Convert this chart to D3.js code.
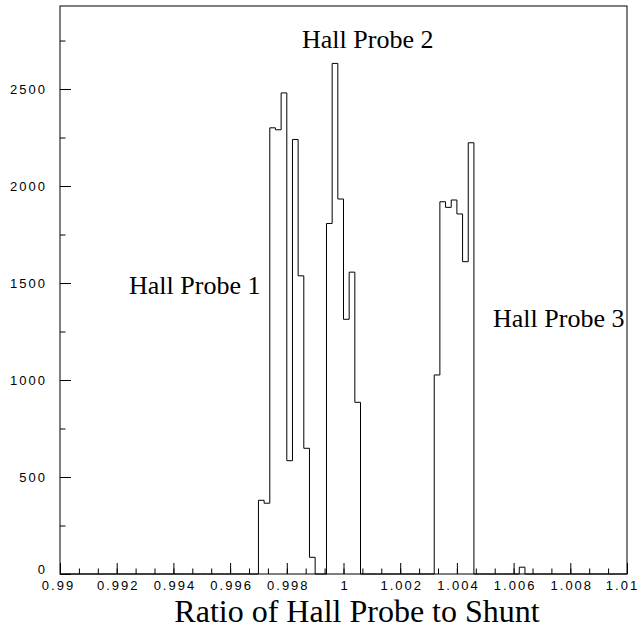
<!DOCTYPE html>
<html>
<head>
<meta charset="utf-8">
<script src="https://cdn.jsdelivr.net/npm/d3@7"></script>
<style>
  body { margin: 0; background: #fff; }
  svg { display: block; }
  .tick text { font-family: "Liberation Sans", Arial, sans-serif; font-size: 13px; letter-spacing: 2px; fill: #000; }
  .lbl { font-family: "Liberation Serif", "Times New Roman", serif; fill: #000; }
</style>
</head>
<body>
<div id="chart"></div>
<script>
// histogram bins (lower edge, width 0.0002) and counts
const binWidth = 0.0002
const binLow = [0.9970, 0.9972, 0.9974, 0.9976, 0.9978, 0.9980, 0.9982, 0.9984, 0.9986, 0.9988,
                0.9994, 0.9996, 0.9998, 1.0000, 1.0002, 1.0004,
                1.0032, 1.0034, 1.0036, 1.0038, 1.0040, 1.0042, 1.0044,
                1.0062]
const counts = [380, 365, 2300, 2290, 2480, 584, 2240, 1537, 648, 86,
                1807, 2632, 1933, 1313, 1556, 885,
                1026, 1919, 1890, 1928, 1856, 1610, 2223,
                35]
const xTicks = [0.99, 0.992, 0.994, 0.996, 0.998, 1, 1.002, 1.004, 1.006, 1.008, 1.01]
const yTicks = [0, 500, 1000, 1500, 2000, 2500]
const probeLabels = ['Hall Probe 1', 'Hall Probe 2', 'Hall Probe 3']
const xTitle = 'Ratio of Hall Probe to Shunt'

const width = 643
const height = 632
const mLeft = 60, mRight = 627, mTop = 6, mBottom = 574

const x = d3.scaleLinear().domain([0.99, 1.01]).range([mLeft, mRight])
const y = d3.scaleLinear().domain([0, 2928]).range([mBottom, mTop])

const svg = d3.select('#chart').append('svg')
    .attr('width', width)
    .attr('height', height)

// frame
svg.append('rect')
    .attr('x', mLeft).attr('y', mTop)
    .attr('width', mRight - mLeft).attr('height', mBottom - mTop)
    .attr('fill', 'none').attr('stroke', '#000').attr('stroke-width', 1)

// minor ticks
const xMinor = d3.range(0, 31).map(i => 0.99 + i * 0.002 / 3)
const yMinor = d3.range(0, 12).map(i => i * 250)

svg.append('g')
    .attr('transform', `translate(0,${mBottom})`)
    .call(d3.axisBottom(x).tickValues(xMinor).tickSize(-5.5).tickFormat(''))
    .call(g => g.select('.domain').remove())

svg.append('g')
    .attr('transform', `translate(${mLeft},0)`)
    .call(d3.axisLeft(y).tickValues(yMinor).tickSize(-5.5).tickFormat(''))
    .call(g => g.select('.domain').remove())

// major ticks + labels
svg.append('g')
    .attr('transform', `translate(0,${mBottom})`)
    .call(d3.axisBottom(x).tickValues(xTicks).tickSize(-11).tickPadding(6.5).tickFormat(d => d3.format('')(+d.toFixed(3))))
    .call(g => g.select('.domain').remove())
    .call(g => g.selectAll('text').attr('dx', (d, i, n) => i === 0 ? -2 : (i === n.length - 1 ? -5 : 1)))

svg.append('g')
    .attr('transform', `translate(${mLeft},0)`)
    .call(d3.axisLeft(y).tickValues(yTicks).tickSize(-11).tickPadding(13).tickFormat(d3.format('d')))
    .call(g => g.select('.domain').remove())
    .call(g => g.selectAll('text').filter(d => d === 0).attr('y', -5))

svg.selectAll('.tick line').attr('stroke', '#000')

// full bin array, then the outline path
const nBins = Math.round((1.01 - 0.99) / binWidth)
const full = new Array(nBins).fill(0)
binLow.forEach((b, i) => { full[Math.round((b - 0.99) / binWidth)] = counts[i] })

let path = d3.path()
path.moveTo(x(0.99), y(0))
full.forEach((c, i) => {
    const x0 = x(0.99 + i * binWidth)
    const x1 = x(0.99 + (i + 1) * binWidth)
    path.lineTo(x0, y(c))
    path.lineTo(x1, y(c))
})
path.lineTo(x(1.01), y(0))

svg.append('path')
    .attr('d', path.toString())
    .attr('fill', 'none')
    .attr('stroke', '#000')
    .attr('stroke-width', 1)

// probe labels
const labelPos = [[129, 294], [302, 48], [493, 327]]
svg.selectAll('.probe')
    .data(probeLabels)
    .enter()
    .append('text')
    .attr('class', 'lbl probe')
    .attr('x', (d, i) => labelPos[i][0])
    .attr('y', (d, i) => labelPos[i][1])
    .attr('font-size', 26)
    .text(d => d)

// x title
svg.append('text')
    .attr('class', 'lbl')
    .attr('x', 357)
    .attr('y', 622)
    .attr('text-anchor', 'middle')
    .attr('font-size', 32)
    .text(xTitle)
</script>
</body>
</html>
